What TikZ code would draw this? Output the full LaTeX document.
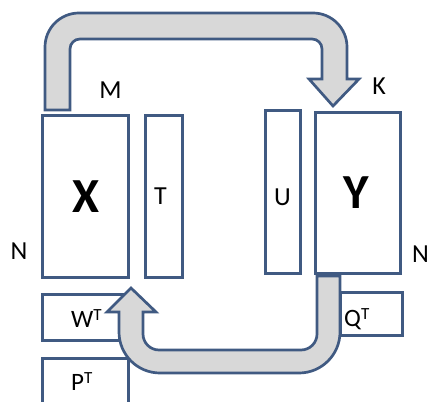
\documentclass[tikz,border=0pt]{standalone}
\usepackage{fontspec}
\setmainfont{Carlito}
\definecolor{edgeblue}{RGB}{64,90,130}
\definecolor{bandgrey}{RGB}{216,216,216}
\newcommand{\supT}{\raisebox{7pt}{\fontsize{17}{17}\selectfont T}}
\begin{document}
\begin{tikzpicture}[x=1pt,y=1pt,yscale=-1,
  blockbox/.style={draw=edgeblue,line width=3pt,fill=white},
  bandarrow/.style={draw=edgeblue,line width=2.7pt,fill=bandgrey,line join=miter},
  lbl/.style={inner sep=0pt,font=\fontsize{26}{30}\selectfont},
  biglbl/.style={inner sep=0pt,font=\fontsize{49}{55}\selectfont\bfseries},
  sublbl/.style={inner sep=0pt,font=\fontsize{25}{30}\selectfont}]
\useasboundingbox (0,0) rectangle (427,401);

% blocks
\draw[blockbox] (42,115) rectangle (128,277);
\draw[blockbox] (145,115) rectangle (182,277);
\draw[blockbox] (265,110) rectangle (300,273);
\draw[blockbox] (315,112) rectangle (400,273);
\draw[blockbox] (42,294) rectangle (126,340);
\draw[blockbox] (42,358) rectangle (128,412);
\draw[blockbox] (340,292) rectangle (402,335);

% labels
\node[biglbl,anchor=base] (lx) at (85.5,212) {X};
\node[biglbl,anchor=base] (ly) at (356.5,208) {Y};
\node[lbl,anchor=base] (lt) at (160.5,204) {T};
\node[lbl,anchor=base] (lu) at (282.5,205) {U};
\node[lbl,anchor=base] (lm) at (110.5,99) {M};
\node[lbl,anchor=base] (lk) at (379,95) {K};
\node[lbl,anchor=base] (ln) at (19,259) {N};
\node[lbl,anchor=base west] (ln2) at (412,262) {N};
\node[sublbl,anchor=base west] (lw) at (71,327) {W\supT};
\node[sublbl,anchor=base west] (lp) at (71,390) {P\supT};
\node[sublbl,anchor=base west] (lq) at (344,326) {Q\supT};

% upper bent arrow, from X over to Y
\draw[bandarrow] (45,110) -- (45,47)
  arc[start angle=180,end angle=270,radius=34] -- (313,13)
  arc[start angle=-90,end angle=0,radius=34] -- (347,79)
  -- (359,79) -- (333,106) -- (309,79) -- (322,79) -- (322,49)
  arc[start angle=0,end angle=-90,radius=10] -- (80,39)
  arc[start angle=-90,end angle=-180,radius=10] -- (70,110) -- cycle;

% lower bent arrow, from Y back under to X
\draw[bandarrow] (317,276) -- (340,276) -- (340,332)
  arc[start angle=0,end angle=90,radius=41] -- (160,373)
  arc[start angle=90,end angle=180,radius=41] -- (119,312)
  -- (107,312) -- (131,288) -- (156,312) -- (143,312) -- (143,334)
  arc[start angle=180,end angle=90,radius=16] -- (301,350)
  arc[start angle=90,end angle=0,radius=16] -- cycle;
\end{tikzpicture}
\end{document}
